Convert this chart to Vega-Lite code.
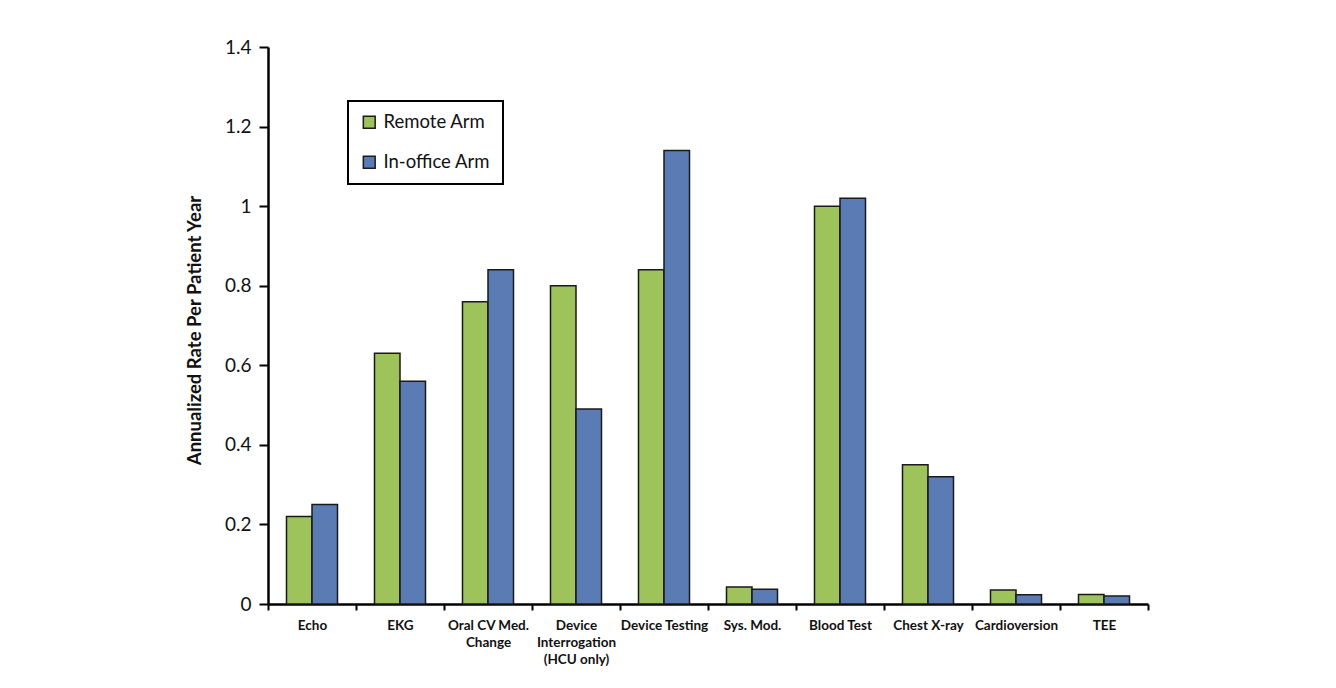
{
  "$schema": "https://vega.github.io/schema/vega-lite/v6.json",
  "width": 880,
  "height": 557,
  "autosize": {"type": "none"},
  "padding": {"left": 268, "top": 47, "right": 188, "bottom": 84},
  "background": "white",
  "config": {
    "font": "Lato",
    "view": {"stroke": null},
    "axis": {"domainColor": "black", "tickColor": "black", "labelColor": "#111", "titleColor": "#111", "grid": false}
  },
  "data": {
    "values": [
      {"procedure": "Echo", "arm": "Remote Arm", "rate": 0.22},
      {"procedure": "Echo", "arm": "In-office Arm", "rate": 0.25},
      {"procedure": "EKG", "arm": "Remote Arm", "rate": 0.63},
      {"procedure": "EKG", "arm": "In-office Arm", "rate": 0.56},
      {"procedure": "Oral CV Med. Change", "arm": "Remote Arm", "rate": 0.76},
      {"procedure": "Oral CV Med. Change", "arm": "In-office Arm", "rate": 0.84},
      {"procedure": "Device Interrogation (HCU only)", "arm": "Remote Arm", "rate": 0.80},
      {"procedure": "Device Interrogation (HCU only)", "arm": "In-office Arm", "rate": 0.49},
      {"procedure": "Device Testing", "arm": "Remote Arm", "rate": 0.84},
      {"procedure": "Device Testing", "arm": "In-office Arm", "rate": 1.14},
      {"procedure": "Sys. Mod.", "arm": "Remote Arm", "rate": 0.043},
      {"procedure": "Sys. Mod.", "arm": "In-office Arm", "rate": 0.037},
      {"procedure": "Blood Test", "arm": "Remote Arm", "rate": 1.0},
      {"procedure": "Blood Test", "arm": "In-office Arm", "rate": 1.02},
      {"procedure": "Chest X-ray", "arm": "Remote Arm", "rate": 0.35},
      {"procedure": "Chest X-ray", "arm": "In-office Arm", "rate": 0.32},
      {"procedure": "Cardioversion", "arm": "Remote Arm", "rate": 0.035},
      {"procedure": "Cardioversion", "arm": "In-office Arm", "rate": 0.023},
      {"procedure": "TEE", "arm": "Remote Arm", "rate": 0.024},
      {"procedure": "TEE", "arm": "In-office Arm", "rate": 0.02}
    ]
  },
  "mark": {"type": "bar", "stroke": "#1a1a1a", "strokeWidth": 1.5},
  "encoding": {
    "x": {
      "field": "procedure",
      "type": "nominal",
      "sort": null,
      "scale": {"paddingInner": 0, "paddingOuter": 0},
      "axis": {
        "title": null,
        "labelAngle": 0,
        "labelFontSize": 13.5,
        "labelFontWeight": "bold",
        "labelLineHeight": 17,
        "labelPadding": 8,
        "tickBand": "extent",
        "tickSize": 6,
        "tickWidth": 2,
        "domainWidth": 2.5,
        "labelExpr": "datum.label == 'Oral CV Med. Change' ? ['Oral CV Med.', 'Change'] : datum.label == 'Device Interrogation (HCU only)' ? ['Device', 'Interrogation', '(HCU only)'] : datum.label"
      }
    },
    "xOffset": {
      "field": "arm",
      "type": "nominal",
      "sort": ["Remote Arm", "In-office Arm"],
      "scale": {"paddingInner": 0, "paddingOuter": 0.725}
    },
    "y": {
      "field": "rate",
      "type": "quantitative",
      "scale": {"domain": [0, 1.4], "nice": false},
      "axis": {
        "title": "Annualized Rate Per Patient Year",
        "titleFontSize": 18.5,
        "titleFontWeight": "bold",
        "titleX": -64,
        "titleY": 283,
        "values": [0, 0.2, 0.4, 0.6, 0.8, 1, 1.2, 1.4],
        "format": "~g",
        "labelFontSize": 19,
        "labelPadding": 8,
        "tickSize": 9,
        "tickWidth": 2,
        "domainWidth": 2.5
      }
    },
    "color": {
      "field": "arm",
      "type": "nominal",
      "sort": ["Remote Arm", "In-office Arm"],
      "scale": {"domain": ["Remote Arm", "In-office Arm"], "range": ["#9DC35A", "#5B7BB5"]},
      "legend": {
        "title": null,
        "orient": "none",
        "legendX": 80,
        "legendY": 54,
        "direction": "vertical",
        "strokeColor": "black",
        "fillColor": "white",
        "padding": 12,
        "symbolType": "square",
        "symbolSize": 140,
        "symbolStrokeColor": "#1a1a1a",
        "symbolStrokeWidth": 1.5,
        "labelFontSize": 18.5,
        "labelColor": "#111",
        "labelOffset": 5,
        "rowPadding": 21,
        "encode": {"legend": {"update": {"strokeWidth": {"value": 2}}}}
      }
    }
  }
}
